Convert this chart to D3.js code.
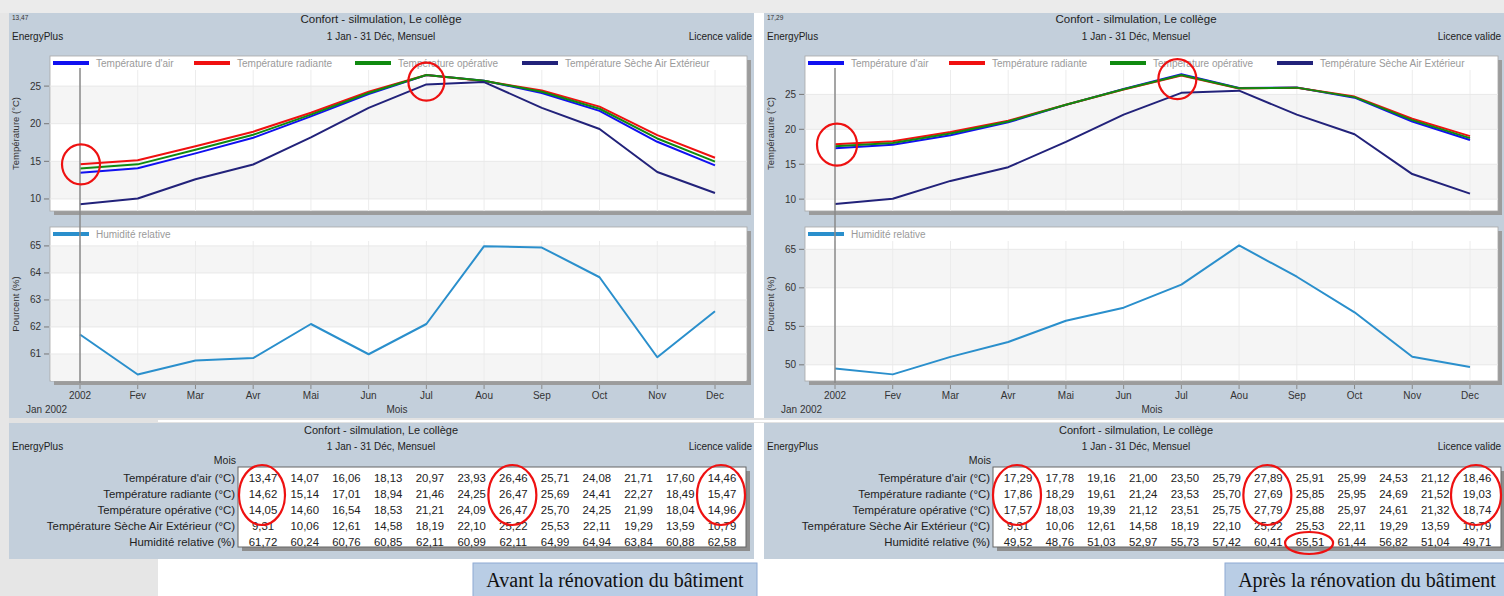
<!DOCTYPE html>
<html lang="fr">
<head>
<meta charset="UTF-8">
<title>Confort - simulation</title>
<script src="https://cdn.jsdelivr.net/npm/d3@7"></script>
<style>
  body { margin: 0; background: #fff; }
  svg { display: block; font-family: "Liberation Sans", Arial, sans-serif; }
</style>
</head>
<body>
<svg width="1504" height="596" viewBox="0 0 1504 596"></svg>
<script>
// ---- data ----
const months = ["2002", "Fev", "Mar", "Avr", "Mai", "Jun", "Jul", "Aou", "Sep", "Oct", "Nov", "Dec"];
const tableMonths = ["Jan","Fev","Mar","Avr","Mai","Jun","Jul","Aou","Sep","Oct","Nov","Dec"];

const avantAir = [13.47, 14.07, 16.06, 18.13, 20.97, 23.93, 26.46, 25.71, 24.08, 21.71, 17.60, 14.46];
const avantRad = [14.62, 15.14, 17.01, 18.94, 21.46, 24.25, 26.47, 25.69, 24.41, 22.27, 18.49, 15.47];
const avantOp  = [14.05, 14.60, 16.54, 18.53, 21.21, 24.09, 26.47, 25.70, 24.25, 21.99, 18.04, 14.96];
const avantHum = [61.72, 60.24, 60.76, 60.85, 62.11, 60.99, 62.11, 64.99, 64.94, 63.84, 60.88, 62.58];

const apresAir = [17.29, 17.78, 19.16, 21.00, 23.50, 25.79, 27.89, 25.91, 25.99, 24.53, 21.12, 18.46];
const apresRad = [17.86, 18.29, 19.61, 21.24, 23.53, 25.70, 27.69, 25.85, 25.95, 24.69, 21.52, 19.03];
const apresOp  = [17.57, 18.03, 19.39, 21.12, 23.51, 25.75, 27.79, 25.88, 25.97, 24.61, 21.32, 18.74];
const apresHum = [49.52, 48.76, 51.03, 52.97, 55.73, 57.42, 60.41, 65.51, 61.44, 56.82, 51.04, 49.71];

const extTemp  = [9.31, 10.06, 12.61, 14.58, 18.19, 22.10, 25.22, 25.53, 22.11, 19.29, 13.59, 10.79];

const seriesNames = ["Température d'air", "Température radiante", "Température opérative", "Température Sèche Air Extérieur"];
const seriesColors = ["#1010f0", "#f01010", "#108a10", "#22227a"];
const humName = "Humidité relative";
const humColor = "#2a8fcc";
const rowLabels = ["Température d'air (°C)", "Température radiante (°C)", "Température opérative (°C)",
                   "Température Sèche Air Extérieur (°C)", "Humidité relative (%)"];

const titleText = "Confort - silmulation, Le collège";
const periodText = "1 Jan - 31 Déc, Mensuel";

const fmt = v => d3.format(".2f")(v).replace(".", ",");

const svg = d3.select("svg");

// page background bits
svg.append("rect").attr("x", 0).attr("y", 0).attr("width", 1504).attr("height", 13).attr("fill", "#ebebeb");
svg.append("rect").attr("x", 0).attr("y", 13).attr("width", 9).attr("height", 583).attr("fill", "#e6e6e6");
svg.append("rect").attr("x", 9).attr("y", 418).attr("width", 1495).attr("height", 5).attr("fill", "#e2e2e2");
svg.append("rect").attr("x", 158).attr("y", 420).attr("width", 1346).attr("height", 2).attr("fill", "#fff");
svg.append("rect").attr("x", 9).attr("y", 559).attr("width", 149).attr("height", 37).attr("fill", "#e6e6e6");

function drawPanel(cfg) {
  const g = svg.append("g").attr("transform", `translate(${cfg.x},0)`);
  const w = cfg.w;
  const panelFill = "#c3cfdb";

  g.append("rect").attr("x", 0).attr("y", 13).attr("width", w).attr("height", 405).attr("fill", panelFill);

  // header
  g.append("text").attr("x", 3).attr("y", 20).attr("font-size", 6.5).attr("fill", "#333").text(cfg.cursor);
  g.append("text").attr("x", 372).attr("y", 23).attr("text-anchor", "middle").attr("font-size", 11.5).attr("fill", "#222").text(titleText);
  g.append("text").attr("x", 3).attr("y", 40).attr("font-size", 10).attr("fill", "#222").text("EnergyPlus");
  g.append("text").attr("x", 372).attr("y", 40).attr("text-anchor", "middle").attr("font-size", 10).attr("fill", "#222").text(periodText);
  g.append("text").attr("x", cfg.licX).attr("y", 40).attr("text-anchor", "end").attr("font-size", 10).attr("fill", "#222").text("Licence valide");

  const boxL = 41, boxR = cfg.boxR;
  const x = d3.scalePoint().domain(months).range([71, 706]);

  function chartBox(top, bottom, domain, ticks, series, legend, yTitle) {
    const y = d3.scaleLinear().domain(domain).range([bottom, top]);
    const cg = g.append("g");
    cg.append("rect").attr("x", boxL + 4).attr("y", top + 4).attr("width", boxR - boxL).attr("height", bottom - top).attr("fill", "#9c9c9c");
    cg.append("rect").attr("x", boxL).attr("y", top).attr("width", boxR - boxL).attr("height", bottom - top)
      .attr("fill", "#fff").attr("stroke", "#a8a8a8").attr("stroke-width", 0.8);

    // alternating bands from the top tick down
    const step = ticks[0] - ticks[1];
    ticks.forEach((t, i) => {
      if (i % 2 === 0) {
        const lo = Math.max(t - step, domain[0]);
        cg.append("rect").attr("x", boxL + 1).attr("width", boxR - boxL - 2)
          .attr("y", y(t)).attr("height", y(lo) - y(t)).attr("fill", "#f5f5f5");
      }
    });
    // grid
    cg.selectAll(".vg").data(months).join("line")
      .attr("x1", d => x(d)).attr("x2", d => x(d)).attr("y1", top + 14).attr("y2", bottom)
      .attr("stroke", "#ececec").attr("stroke-width", 1);
    cg.selectAll(".hg").data(ticks).join("line")
      .attr("x1", boxL).attr("x2", boxR).attr("y1", d => y(d)).attr("y2", d => y(d))
      .attr("stroke", "#e8e8e8");
    // y ticks
    cg.selectAll(".yt").data(ticks).join("line")
      .attr("x1", boxL - 6).attr("x2", boxL - 1).attr("y1", d => y(d)).attr("y2", d => y(d))
      .attr("stroke", "#777");
    cg.selectAll(".yl").data(ticks).join("text")
      .attr("x", boxL - 9).attr("y", d => y(d) + 3.5).attr("text-anchor", "end")
      .attr("font-size", 10).attr("fill", "#333").text(d => d);
    cg.append("text").attr("transform", `translate(10,${(top + bottom) / 2}) rotate(-90)`)
      .attr("text-anchor", "middle").attr("font-size", 9.5).attr("fill", "#333").text(yTitle);

    // legend
    legend.forEach(l => {
      cg.append("line").attr("x1", l.lx).attr("x2", l.lx + 36).attr("y1", top + 7).attr("y2", top + 7)
        .attr("stroke", l.color).attr("stroke-width", 4);
      cg.append("text").attr("x", l.lx + 43).attr("y", top + 10.5).attr("font-size", 10).attr("fill", "#9a9a9a").text(l.name);
    });

    const line = d3.line().x((d, i) => x(months[i])).y(d => y(d));
    series.forEach(s => {
      cg.append("path").attr("d", line(s.values)).attr("fill", "none")
        .attr("stroke", s.color).attr("stroke-width", 2).attr("stroke-linejoin", "round");
    });
    return y;
  }

  const tSeries = [cfg.air, cfg.rad, cfg.op, extTemp].map((v, i) => ({values: v, color: seriesColors[i]}));
  const tLegend = seriesNames.map((n, i) => ({name: n, color: seriesColors[i], lx: [3, 144, 305, 472][i] + boxL}));
  const yT = chartBox(56, 211, cfg.tDomain, [25, 20, 15, 10], tSeries, tLegend, "Température (°C)");
  const yH = chartBox(227, 381, cfg.hDomain, cfg.hTicks, [{values: cfg.hum, color: humColor}],
    [{name: humName, color: humColor, lx: boxL + 3}], "Pourcent (%)");

  // cursor line at January
  g.append("line").attr("x1", x(months[0])).attr("x2", x(months[0])).attr("y1", 68).attr("y2", 383)
    .attr("stroke", "#8a8a8a").attr("stroke-width", 1.5);

  // x axis
  g.selectAll(".xt").data(months).join("line")
    .attr("x1", d => x(d)).attr("x2", d => x(d)).attr("y1", 385).attr("y2", 389).attr("stroke", "#888");
  g.selectAll(".xl").data(months).join("text")
    .attr("x", d => x(d)).attr("y", 399).attr("text-anchor", "middle")
    .attr("font-size", 10).attr("fill", "#333").text(d => d);
  g.append("text").attr("x", 17).attr("y", 413).attr("font-size", 10).attr("fill", "#333").text("Jan  2002");
  g.append("text").attr("x", 388).attr("y", 413).attr("text-anchor", "middle").attr("font-size", 10).attr("fill", "#333").text("Mois");

  // annotations on the charts
  cfg.chartMarks.forEach(m => {
    g.append("ellipse").attr("cx", x(months[m.i]) + (m.dx || 0)).attr("cy", yT(m.v))
      .attr("rx", m.rx).attr("ry", m.ry).attr("fill", "none").attr("stroke", "#ee1111").attr("stroke-width", 2.2);
  });

  // ---- table panel ----
  g.append("rect").attr("x", 0).attr("y", 423).attr("width", w).attr("height", 136).attr("fill", panelFill);
  g.append("text").attr("x", 372).attr("y", 434).attr("text-anchor", "middle").attr("font-size", 11).attr("fill", "#222").text(titleText);
  g.append("text").attr("x", 3).attr("y", 450).attr("font-size", 10).attr("fill", "#222").text("EnergyPlus");
  g.append("text").attr("x", 372).attr("y", 450).attr("text-anchor", "middle").attr("font-size", 10).attr("fill", "#222").text(periodText);
  g.append("text").attr("x", cfg.licX).attr("y", 450).attr("text-anchor", "end").attr("font-size", 10).attr("fill", "#222").text("Licence valide");
  g.append("text").attr("x", 227).attr("y", 464).attr("text-anchor", "end").attr("font-size", 10.5).attr("fill", "#222").text("Mois");

  const tx = d3.scalePoint().domain(tableMonths).range([254, 713]);
  const rows = [cfg.air, cfg.rad, cfg.op, extTemp, cfg.hum];
  const ty = d3.scalePoint().domain(d3.range(rows.length)).range([478, 542]);

  g.append("rect").attr("x", 233).attr("y", 471).attr("width", 508).attr("height", 80).attr("fill", "#8e8e8e");
  g.append("rect").attr("x", 229).attr("y", 467).attr("width", 508).attr("height", 80)
    .attr("fill", "#fff").attr("stroke", "#666").attr("stroke-width", 1);

  g.selectAll(".rl").data(rowLabels).join("text")
    .attr("x", 226).attr("y", (d, i) => ty(i) + 4).attr("text-anchor", "end")
    .attr("font-size", 11.4).attr("fill", "#222").text(d => d);
  rows.forEach((r, ri) => {
    g.selectAll(null).data(r).join("text")
      .attr("x", (d, i) => tx(tableMonths[i])).attr("y", ty(ri) + 4).attr("text-anchor", "middle")
      .attr("font-size", 11.4).attr("fill", "#222").text(d => fmt(d));
  });

  cfg.tableMarks.forEach(m => {
    const r0 = ty(m.r0), r1 = ty(m.r1);
    g.append("ellipse").attr("cx", tx(tableMonths[m.c]) - 1).attr("cy", (r0 + r1) / 2 + 1)
      .attr("rx", m.rx).attr("ry", (r1 - r0) / 2 + m.pad).attr("fill", "none")
      .attr("stroke", "#ee1111").attr("stroke-width", 2.2);
  });

  // caption box
  g.append("rect").attr("x", cfg.capX).attr("y", 563).attr("width", 284).attr("height", 40)
    .attr("fill", "#b9cde5").attr("stroke", "#8eaad3").attr("stroke-width", 1);
  g.append("text").attr("x", cfg.capX + 142).attr("y", 587).attr("text-anchor", "middle")
    .attr("font-family", "'Liberation Serif', 'Times New Roman', serif").attr("font-size", 20)
    .attr("fill", "#111").text(cfg.caption);
}

drawPanel({
  x: 9, w: 745, boxR: 738, licX: 743, cursor: "13,47",
  air: avantAir, rad: avantRad, op: avantOp, hum: avantHum,
  tDomain: [8.4, 29.0], hDomain: [60.0, 65.7], hTicks: [65, 64, 63, 62, 61],
  chartMarks: [{i: 0, v: 14.6, dx: 1, rx: 19, ry: 20}, {i: 6, v: 25.6, dx: 0, rx: 18, ry: 19}],
  tableMarks: [{c: 0, r0: 0, r1: 2, rx: 23, pad: 14}, {c: 6, r0: 0, r1: 2, rx: 24, pad: 14}, {c: 11, r0: 0, r1: 2, rx: 24, pad: 14}],
  capX: 464, caption: "Avant la rénovation du bâtiment"
});

drawPanel({
  x: 764, w: 740, boxR: 734, licX: 737, cursor: "17,29",
  air: apresAir, rad: apresRad, op: apresOp, hum: apresHum,
  tDomain: [8.3, 30.5], hDomain: [47.9, 67.9], hTicks: [65, 60, 55, 50],
  chartMarks: [{i: 0, v: 17.8, dx: 2, rx: 20, ry: 21}, {i: 6, v: 27.2, dx: -4, rx: 19, ry: 20}],
  tableMarks: [{c: 0, r0: 0, r1: 2, rx: 24, pad: 14}, {c: 6, r0: 0, r1: 2, rx: 24, pad: 14}, {c: 11, r0: 0, r1: 2, rx: 25, pad: 14},
               {c: 7, r0: 4, r1: 4, rx: 24, pad: 11}],
  capX: 461, caption: "Après la rénovation du bâtiment"
});
</script>
</body>
</html>
